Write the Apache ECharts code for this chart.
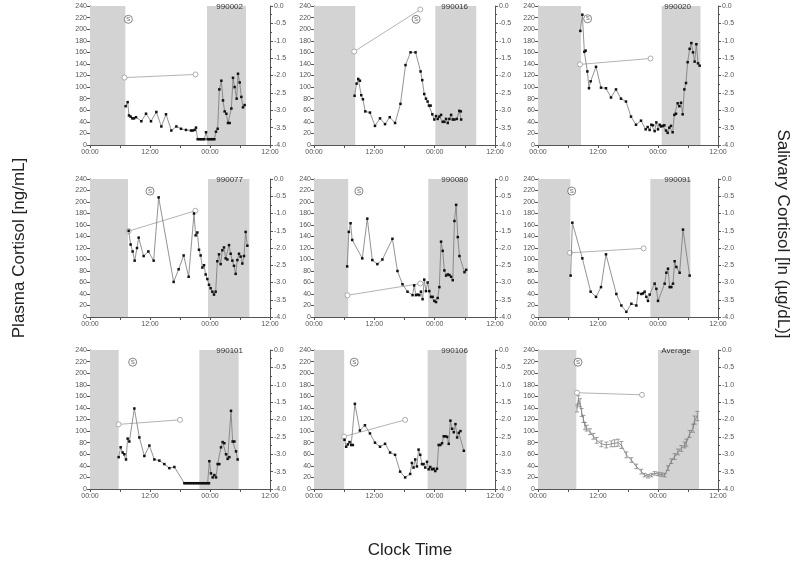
<!DOCTYPE html>
<html><head><meta charset="utf-8">
<script src="https://cdn.jsdelivr.net/npm/echarts@6/dist/echarts.min.js"></script>
<style>html,body{margin:0;padding:0;background:#fff}#c{width:800px;height:562px}</style>
</head><body><div id="c"></div>
<script>
// ---------- tick labels ----------
const xTickLabels = ['00:00', '12:00', '00:00', '12:00'];

// ---------- panel ids ----------
const panelIds = ['990002', '990016', '990020', '990077', '990080', '990091', '990101', '990106', 'Average'];

// ---------- night (grey) bands, hours from 00:00 of day 1 ----------
const night_990002 = [[0, 7.07], [23.4, 31.2]];
const night_990016 = [[0, 8.2], [24.13, 32.27]];
const night_990020 = [[0, 8.6], [24.73, 32.5]];
const night_990077 = [[0, 7.6], [23.6, 31.87]];
const night_990080 = [[0, 6.8], [22.73, 30.6]];
const night_990091 = [[0, 6.47], [22.47, 30.47]];
const night_990101 = [[0, 5.73], [21.87, 29.73]];
const night_990106 = [[0, 6.0], [22.6, 30.33]];
const night_Average = [[0, 7.67], [24.0, 32.2]];

// ---------- salivary cortisol, ln(ug/dL) ----------
const saliva_990002 = [[6.9, -2.06], [21.1, -1.97]];
const saliva_990016 = [[8.0, -1.31], [21.13, -0.1]];
const saliva_990020 = [[8.4, -1.68], [22.5, -1.51]];
const saliva_990077 = [[7.73, -1.51], [21.07, -0.92]];
const saliva_990080 = [[6.67, -3.37], [21.13, -3.03]];
const saliva_990091 = [[6.4, -2.14], [21.13, -2.01]];
const saliva_990101 = [[5.73, -2.14], [18.0, -2.01]];
const saliva_990106 = [[6.0, -2.49], [18.13, -2.01]];
const saliva_Average = [[7.8, -1.23], [20.8, -1.29]];

// ---------- salivary sample marker (S) position [hour, ng/mL scale] ----------
const smark_990002 = [[7.67, 217]];
const smark_990016 = [[20.3, 217]];
const smark_990020 = [[9.93, 218]];
const smark_990077 = [[12.0, 219]];
const smark_990080 = [[8.93, 219]];
const smark_990091 = [[6.73, 219]];
const smark_990101 = [[8.53, 219]];
const smark_990106 = [[8.0, 219]];
const smark_Average = [[8.0, 219]];

// ---------- plasma cortisol, ng/mL ----------
const plasma_990002 = [[7.13,67],[7.53,74],[7.8,51],[8.13,49],[8.47,46],[8.8,46],[9.2,48],[10.27,41],[11.2,54],[12.2,41],[13.27,57],[14.27,32],[15.2,53],[16.27,25],[17.27,32],[18.2,28],[19.2,26],[20.2,25],[20.53,25],[20.93,26],[21.2,30],[21.53,10],[21.87,10],[22.2,10],[22.53,10],[22.87,10],[23.2,22],[23.53,10],[23.87,10],[24.2,10],[24.53,10],[24.87,10],[25.2,23],[25.53,28],[25.87,96],[26.27,111],[26.6,77],[26.93,58],[27.27,54],[27.6,38],[27.93,38],[28.27,63],[28.6,116],[28.93,100],[29.33,80],[29.6,123],[29.93,108],[30.27,83],[30.6,65],[30.93,69]];
const plasma_990016 = [[8.07,85],[8.47,106],[8.8,114],[9.13,111],[9.4,86],[9.73,79],[10.2,58],[11.13,56],[12.13,33],[13.13,46],[14.13,36],[15.07,48],[16.13,38],[17.2,71],[18.2,138],[19.2,160],[20.2,160],[21.2,127],[21.53,112],[21.93,88],[22.27,80],[22.6,75],[22.87,68],[23.2,68],[23.53,53],[23.93,44],[24.27,50],[24.6,45],[24.93,49],[25.27,52],[25.6,40],[25.93,40],[26.27,45],[26.6,38],[26.93,45],[27.27,52],[27.6,44],[27.93,44],[28.4,45],[28.9,59],[29.2,58],[29.27,44]];
const plasma_990020 = [[8.47,197],[8.87,225],[9.27,161],[9.53,163],[9.87,127],[10.2,98],[10.53,110],[11.6,135],[12.6,99],[13.6,98],[14.6,82],[15.6,96],[16.6,80],[17.6,75],[18.6,49],[19.6,35],[20.6,42],[21.53,27],[21.93,31],[22.33,26],[22.67,35],[23.0,34],[23.33,24],[23.67,39],[24.0,27],[24.33,35],[24.6,32],[24.93,33],[25.27,34],[25.6,25],[25.93,21],[26.27,30],[26.6,33],[26.93,22],[27.27,52],[27.6,54],[27.93,72],[28.27,67],[28.6,73],[28.93,53],[29.27,96],[29.6,107],[29.93,143],[30.33,166],[30.67,176],[31.0,160],[31.33,144],[31.67,174],[32.0,141],[32.33,137]];
const plasma_990077 = [[7.73,150],[8.13,126],[8.53,114],[8.93,98],[9.4,120],[9.73,138],[10.73,106],[11.67,114],[12.73,98],[13.73,208],[16.73,61],[17.73,83],[18.73,107],[19.73,70],[20.8,180],[21.13,142],[21.47,147],[21.8,117],[22.13,107],[22.47,86],[22.8,90],[23.13,74],[23.47,66],[23.8,56],[24.13,50],[24.47,44],[24.8,39],[25.13,44],[25.47,97],[25.8,109],[26.13,92],[26.47,116],[26.8,121],[27.13,102],[27.47,100],[27.8,125],[28.13,110],[28.47,98],[28.8,89],[29.13,75],[29.47,99],[29.8,110],[30.13,105],[30.47,93],[30.8,106],[31.13,148],[31.47,124]];
const plasma_990080 = [[6.6,88],[6.93,148],[7.27,163],[7.6,134],[9.6,102],[10.6,171],[11.6,99],[12.6,92],[13.6,100],[15.6,136],[16.6,80],[17.6,57],[18.6,44],[19.6,38],[19.93,55],[20.27,38],[20.6,39],[20.93,38],[21.27,44],[21.6,31],[21.93,65],[22.27,45],[22.6,60],[22.93,45],[23.27,35],[23.6,35],[23.93,28],[24.27,26],[24.6,33],[24.93,52],[25.27,131],[25.6,115],[25.93,81],[26.27,72],[26.6,74],[26.93,73],[27.27,70],[27.6,64],[27.93,167],[28.27,195],[28.6,139],[28.93,106],[29.93,78],[30.27,82]];
const plasma_990091 = [[6.53,72],[6.87,164],[8.87,102],[10.53,44],[11.6,35],[12.6,52],[13.6,109],[15.67,40],[16.67,20],[17.67,9],[18.67,23],[19.67,20],[20.0,42],[20.67,40],[21.0,41],[21.33,44],[21.67,35],[22.0,28],[22.33,39],[23.33,58],[23.67,49],[24.0,28],[25.33,58],[25.67,77],[26.0,84],[26.33,52],[26.67,52],[27.0,58],[27.33,97],[27.67,87],[28.33,77],[29.0,152],[30.33,72]];
const plasma_990101 = [[5.73,55],[6.13,72],[6.53,63],[6.87,60],[7.2,51],[7.53,87],[7.87,82],[8.87,139],[9.87,89],[10.87,57],[11.87,75],[12.87,51],[13.87,49],[14.87,43],[15.87,36],[16.87,38],[18.87,10],[19.2,10],[19.53,10],[19.87,10],[20.2,10],[20.53,10],[20.87,10],[21.2,10],[21.53,10],[21.87,10],[22.2,10],[22.53,10],[22.87,10],[23.2,10],[23.53,10],[23.8,10],[23.87,48],[24.2,27],[24.53,20],[24.87,24],[25.2,20],[25.53,43],[25.87,43],[26.2,72],[26.53,81],[26.87,79],[27.2,60],[27.53,52],[27.87,55],[28.2,135],[28.53,82],[28.87,82],[29.2,65],[29.53,51]];
const plasma_990106 = [[6.07,85],[6.4,73],[6.73,77],[7.07,81],[7.4,76],[7.73,76],[8.13,147],[9.13,101],[10.13,110],[11.13,96],[12.13,80],[13.13,73],[14.13,78],[15.13,63],[16.13,59],[17.13,30],[18.13,20],[19.13,26],[19.47,45],[19.8,37],[20.13,51],[20.47,39],[20.8,68],[21.13,59],[21.47,43],[21.8,43],[22.13,37],[22.47,47],[22.8,34],[23.13,38],[23.47,34],[23.8,35],[24.13,31],[24.47,35],[24.8,76],[25.13,76],[25.47,79],[25.8,91],[26.13,91],[26.47,90],[26.8,78],[27.13,118],[27.47,104],[27.8,98],[28.13,112],[28.47,89],[28.8,97],[29.13,100],[29.8,66]];
const plasma_Average = [[7.8,139],[8.07,154],[8.4,149],[8.73,132],[9.07,121],[9.4,109],[9.73,105],[10.4,99],[11.07,91],[11.73,84],[12.67,78],[13.67,76],[14.67,78],[15.33,79],[16.0,80],[16.67,76],[17.67,59],[18.67,50],[19.67,39],[20.67,30],[21.33,24],[22.0,22],[22.67,24],[23.33,27],[24.0,26],[24.67,25],[25.33,24],[26.0,36],[26.67,48],[27.33,56],[28.0,64],[28.67,70],[29.33,76],[29.67,80],[30.33,95],[31.0,105],[31.33,119],[31.87,126]];
const plasmaErr_Average = [6,7,7,7,6,6,5,5,5,5,5,5,5,6,6,6,5,4,4,4,3,3,3,3,3,3,3,4,4,5,5,5,5,6,6,7,7,8];

// ---------- build ----------
const nightAll = [night_990002, night_990016, night_990020, night_990077, night_990080, night_990091, night_990101, night_990106, night_Average];
const salivaAll = [saliva_990002, saliva_990016, saliva_990020, saliva_990077, saliva_990080, saliva_990091, saliva_990101, saliva_990106, saliva_Average];
const smarkAll = [smark_990002, smark_990016, smark_990020, smark_990077, smark_990080, smark_990091, smark_990101, smark_990106, smark_Average];
const plasmaAll = [plasma_990002, plasma_990016, plasma_990020, plasma_990077, plasma_990080, plasma_990091, plasma_990101, plasma_990106, plasma_Average];

const colPos = [{left: 90, width: 180}, {left: 314, width: 181}, {left: 538, width: 180}];
const rowPos = [{top: 6, height: 139}, {top: 179, height: 138}, {top: 350, height: 139}];

const FONT = 'Liberation Sans, Arial, sans-serif';
const axisCol = '#555';
const lblStyle = {fontSize: 7, color: '#555', fontFamily: FONT};

const grids = [], xAxes = [], yAxes = [], series = [], titles = [];
panelIds.forEach((id, i) => {
  const c = colPos[i % 3], r = rowPos[Math.floor(i / 3)];
  grids.push({left: c.left, top: r.top, width: c.width, height: r.height, containLabel: false});
  xAxes.push({
    type: 'value', gridIndex: i, min: 0, max: 36, interval: 12,
    axisLine: {show: true, onZero: false, lineStyle: {color: axisCol, width: 1}},
    axisTick: {show: true, length: 3, lineStyle: {color: axisCol}},
    minorTick: {show: true, splitNumber: 2, length: 3, lineStyle: {color: axisCol}},
    splitLine: {show: false},
    axisLabel: Object.assign({margin: 4, formatter: v => xTickLabels[Math.round(v / 12)]}, lblStyle)
  });
  yAxes.push({
    type: 'value', gridIndex: i, min: 0, max: 240, interval: 20, position: 'left',
    axisLine: {show: true, lineStyle: {color: axisCol, width: 1}},
    axisTick: {show: true, length: 3, lineStyle: {color: axisCol}},
    splitLine: {show: false},
    axisLabel: Object.assign({margin: 3}, lblStyle)
  });
  yAxes.push({
    type: 'value', gridIndex: i, min: -4, max: 0, interval: 0.5, position: 'right',
    axisLine: {show: true, lineStyle: {color: axisCol, width: 1}},
    axisTick: {show: true, length: 3, lineStyle: {color: axisCol}},
    minorTick: {show: true, splitNumber: 2, length: 2, lineStyle: {color: axisCol}},
    splitLine: {show: false},
    axisLabel: Object.assign({margin: 4, formatter: v => v.toFixed(1)}, lblStyle)
  });
  titles.push({
    text: id, right: 800 - (c.left + c.width) + 22, top: r.top - 8,
    textStyle: {fontSize: 8, fontWeight: 'normal', color: '#333', fontFamily: FONT}
  });
  // night bands
  series.push({
    type: 'line', xAxisIndex: i, yAxisIndex: 2 * i, data: [], silent: true, z: 1,
    markArea: {silent: true, itemStyle: {color: '#d3d3d3'},
      data: nightAll[i].map(b => [{xAxis: b[0]}, {xAxis: b[1]}])}
  });
  // salivary
  series.push({
    type: 'line', xAxisIndex: i, yAxisIndex: 2 * i + 1, data: salivaAll[i], z: 3,
    symbol: 'circle', symbolSize: 5, showAllSymbol: true,
    itemStyle: {color: '#fff', borderColor: '#999', borderWidth: 0.8},
    lineStyle: {color: '#aaa', width: 0.9}
  });
  // S marker
  series.push({
    type: 'scatter', xAxisIndex: i, yAxisIndex: 2 * i, data: smarkAll[i], z: 4,
    symbol: 'circle', symbolSize: 8,
    itemStyle: {color: '#fff', borderColor: '#555', borderWidth: 0.9},
    label: {show: true, position: 'inside', formatter: 'S', fontSize: 6, color: '#333', fontFamily: FONT}
  });
  // plasma
  const isAvg = id === 'Average';
  series.push({
    type: 'line', xAxisIndex: i, yAxisIndex: 2 * i, data: plasmaAll[i], z: 5,
    symbol: isAvg ? 'none' : 'rect', symbolSize: 2.5, showAllSymbol: true,
    itemStyle: {color: '#111'},
    lineStyle: {color: '#777', width: 0.8}
  });
  if (isAvg) {
    series.push({
      type: 'custom', xAxisIndex: i, yAxisIndex: 2 * i, z: 6,
      data: plasmaAll[i].map((p, k) => [p[0], p[1], plasmaErr_Average[k]]),
      renderItem: (params, api) => {
        const x = api.value(0), y = api.value(1), e = api.value(2);
        const top = api.coord([x, y + e]), bot = api.coord([x, y - e]);
        const w = 2;
        const st = {stroke: '#777', lineWidth: 0.7};
        return {type: 'group', children: [
          {type: 'line', shape: {x1: top[0], y1: top[1], x2: bot[0], y2: bot[1]}, style: st},
          {type: 'line', shape: {x1: top[0] - w, y1: top[1], x2: top[0] + w, y2: top[1]}, style: st},
          {type: 'line', shape: {x1: bot[0] - w, y1: bot[1], x2: bot[0] + w, y2: bot[1]}, style: st}
        ]};
      }
    });
  }
});

const chart = echarts.init(document.getElementById('c'), null, {renderer: 'canvas'});
chart.setOption({
  animation: false,
  backgroundColor: '#fff',
  title: titles,
  grid: grids, xAxis: xAxes, yAxis: yAxes, series: series,
  graphic: [
    {type: 'text', x: 19, y: 248, rotation: Math.PI / 2,
      style: {text: 'Plasma Cortisol [ng/mL]', fontSize: 17, fontFamily: FONT, fill: '#222', textAlign: 'center', textVerticalAlign: 'middle'}},
    {type: 'text', x: 783, y: 234, rotation: -Math.PI / 2,
      style: {text: 'Salivary Cortisol [ln (µg/dL)]', fontSize: 17, fontFamily: FONT, fill: '#222', textAlign: 'center', textVerticalAlign: 'middle'}},
    {type: 'text', x: 410, y: 550,
      style: {text: 'Clock Time', fontSize: 17, fontFamily: FONT, fill: '#222', textAlign: 'center', textVerticalAlign: 'middle'}}
  ]
});
</script></body></html>
